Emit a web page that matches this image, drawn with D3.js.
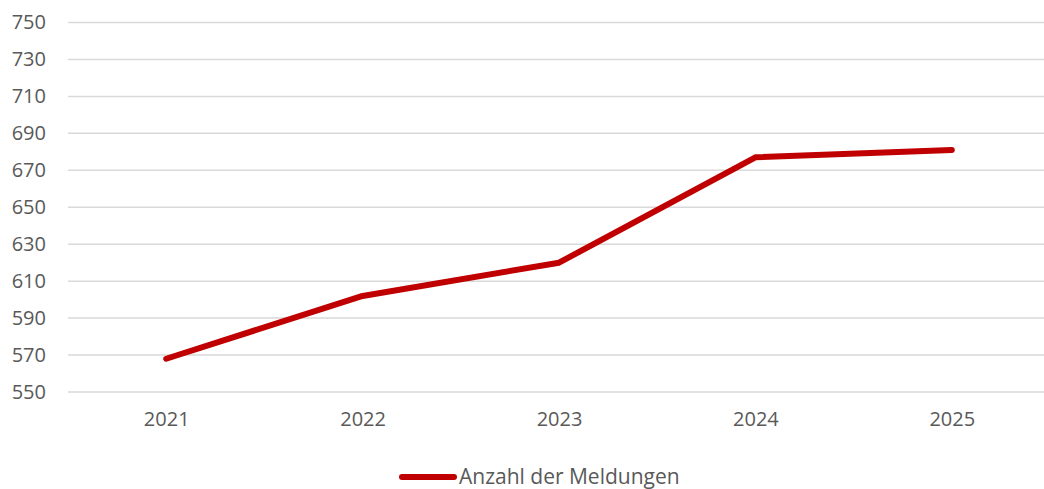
<!DOCTYPE html>
<html>
<head>
<meta charset="utf-8">
<script src="https://cdn.jsdelivr.net/npm/d3@7"></script>
<style>
  html, body { margin: 0; padding: 0; background: #fff; }
  svg text { font-family: "Open Sans", "Liberation Sans", sans-serif; fill: #595959; }
</style>
</head>
<body>
<div id="chart"></div>
<script>
// data
const years = ["2021", "2022", "2023", "2024", "2025"];
const meldungen = [568, 602, 620, 677, 681];
const yTicks = [550, 570, 590, 610, 630, 650, 670, 690, 710, 730, 750];
const seriesName = "Anzahl der Meldungen";

function drawChart() {
    let width = 1044, height = 489;
    let margin = {top: 22.5, right: -6, bottom: 97, left: 68};
    let innerW = width - margin.left - margin.right;
    let innerH = height - margin.top - margin.bottom;

    let svg = d3.select("#chart").append("svg")
        .attr("width", width)
        .attr("height", height);

    let g = svg.append("g")
        .attr("transform", "translate(" + margin.left + "," + margin.top + ")");

    let x = d3.scalePoint().domain(years).range([0, innerW]).padding(0.5);
    let y = d3.scaleLinear().domain([550, 750]).range([innerH, 0]);

    // gridlines
    g.selectAll(".grid").data(yTicks).enter().append("line")
        .attr("x1", 0).attr("x2", innerW)
        .attr("y1", d => y(d)).attr("y2", d => y(d))
        .attr("stroke", "#d9d9d9")
        .attr("stroke-width", 1.5);

    // y axis labels
    let yAxis = g.append("g").call(d3.axisLeft(y).tickValues(yTicks).tickSize(0).tickPadding(22));
    yAxis.select(".domain").remove();
    yAxis.selectAll("text")
        .style("font-size", "20px")
        .style("font-family", "'Open Sans', 'Liberation Sans', sans-serif")
        .attr("fill", "#595959");

    // x axis labels
    let xAxis = g.append("g")
        .attr("transform", "translate(0," + innerH + ")")
        .call(d3.axisBottom(x).tickSize(0).tickPadding(20));
    xAxis.select(".domain").remove();
    xAxis.selectAll("text")
        .style("font-size", "20px")
        .style("font-family", "'Open Sans', 'Liberation Sans', sans-serif")
        .attr("fill", "#595959");

    let line = d3.line()
        .x((d, i) => x(years[i]))
        .y(d => y(d));

    g.append("path")
        .attr("d", line(meldungen))
        .attr("fill", "none")
        .attr("stroke", "#c00000")
        .attr("stroke-width", 6)
        .attr("stroke-linejoin", "round")
        .attr("stroke-linecap", "round");

    // legend
    let legend = svg.append("g").attr("transform", "translate(402,477)");
    legend.append("line")
        .attr("x1", 0).attr("x2", 52)
        .attr("stroke", "#c00000")
        .attr("stroke-width", 6)
        .attr("stroke-linecap", "round");
    legend.append("text")
        .attr("x", 57).attr("dy", "0.35em")
        .style("font-size", "21px")
        .text(seriesName);
}

drawChart();
</script>
</body>
</html>
